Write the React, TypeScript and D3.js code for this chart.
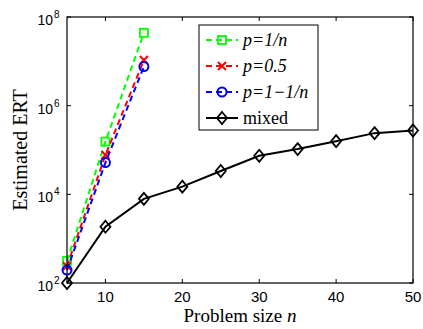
import { useEffect, useRef } from 'react'
import * as d3 from 'd3'

const sizes = [5, 10, 15, 20, 25, 30, 35, 40, 45, 50]
const ertOneOverN = [316, 155000, 44000000]
const ertHalf = [240, 77000, 10700000]
const ertOneMinus = [196, 52000, 7600000]
const ertMixed = [100, 1860, 7900, 14900, 33600, 74000, 105000, 158000, 240000, 275000]

const xTicks = [10, 20, 30, 40, 50]
const yTickExps = [2, 4, 6, 8]

const seriesList = [
  { label: 'p=1/n', values: ertOneOverN, color: '#00ff00', marker: 'square', dashed: true },
  { label: 'p=0.5', values: ertHalf, color: '#ff0000', marker: 'cross', dashed: true },
  { label: 'p=1\u22121/n', values: ertOneMinus, color: '#0000ff', marker: 'circle', dashed: true },
  { label: 'mixed', values: ertMixed, color: '#000000', marker: 'diamond', dashed: false },
]

const W = 423
const H = 329
const plot = { left: 67, right: 413, top: 17, bottom: 283 }
const serif = '"Liberation Serif", "Times New Roman", serif'
const sans = '"Liberation Sans", Arial, sans-serif'

function drawMarker(g: d3.Selection<SVGGElement, unknown, null, undefined>, kind: string, cx: number, cy: number, color: string) {
  if (kind === 'square') {
    g.append('rect')
      .attr('x', cx - 4)
      .attr('y', cy - 4)
      .attr('width', 8)
      .attr('height', 8)
      .attr('fill', 'none')
      .attr('stroke', color)
      .attr('stroke-width', 1.8)
  } else if (kind === 'cross') {
    g.append('path')
      .attr('d', `M${cx - 4},${cy - 4}L${cx + 4},${cy + 4}M${cx - 4},${cy + 4}L${cx + 4},${cy - 4}`)
      .attr('stroke', color)
      .attr('stroke-width', 2)
  } else if (kind === 'circle') {
    g.append('circle')
      .attr('cx', cx)
      .attr('cy', cy)
      .attr('r', 4.5)
      .attr('fill', 'none')
      .attr('stroke', color)
      .attr('stroke-width', 2)
  } else {
    g.append('path')
      .attr('d', `M${cx},${cy - 6}L${cx + 5},${cy}L${cx},${cy + 6}L${cx - 5},${cy}Z`)
      .attr('fill', 'none')
      .attr('stroke', color)
      .attr('stroke-width', 1.8)
  }
}

const App = () => {
  const ref = useRef<SVGSVGElement>(null)

  useEffect(() => {
    if (!ref.current) return
    const svg = d3.select(ref.current)
    svg.selectAll('*').remove()

    const x = d3.scaleLinear().domain([5, 50]).range([plot.left, plot.right])
    const y = d3.scaleLog().domain([1e2, 1e8]).range([plot.bottom, plot.top])

    svg.append('rect').attr('width', W).attr('height', H).attr('fill', '#fff')

    // ticks (inward, all four sides)
    const ticks = svg.append('g').attr('stroke', '#000').attr('stroke-width', 1)
    xTicks.forEach((t) => {
      ticks.append('line').attr('x1', x(t)).attr('x2', x(t)).attr('y1', plot.bottom).attr('y2', plot.bottom - 4)
      ticks.append('line').attr('x1', x(t)).attr('x2', x(t)).attr('y1', plot.top).attr('y2', plot.top + 4)
    })
    yTickExps.forEach((e) => {
      const yy = y(Math.pow(10, e))
      ticks.append('line').attr('x1', plot.left).attr('x2', plot.left + 4).attr('y1', yy).attr('y2', yy)
      ticks.append('line').attr('x1', plot.right).attr('x2', plot.right - 4).attr('y1', yy).attr('y2', yy)
    })

    // tick labels
    xTicks.forEach((t) => {
      svg.append('text')
        .attr('x', x(t))
        .attr('y', plot.bottom + 19)
        .attr('text-anchor', 'middle')
        .style('font-family', sans)
        .style('font-size', '15px')
        .text(String(t))
    })
    yTickExps.forEach((e) => {
      const yy = y(Math.pow(10, e))
      const t = svg.append('text')
        .attr('y', yy + 8)
        .style('font-family', sans)
        .style('font-size', '14px')
      t.append('tspan').attr('x', 53).attr('text-anchor', 'end').text('10')
      t.append('tspan').attr('x', 54).attr('dy', -7).style('font-size', '10px').text(String(e))
    })

    // series
    const line = d3
      .line<number>()
      .x((_, i) => x(sizes[i]))
      .y((d) => y(d))

    seriesList.forEach((s) => {
      const g = svg.append('g')
      g.append('path')
        .attr('d', line(s.values))
        .attr('fill', 'none')
        .attr('stroke', s.color)
        .attr('stroke-width', 2)
        .attr('stroke-dasharray', s.dashed ? '6,4' : null)
      s.values.forEach((v, i) => drawMarker(g, s.marker, x(sizes[i]), y(v), s.color))
    })

    // axes box
    svg.append('rect')
      .attr('x', plot.left)
      .attr('y', plot.top)
      .attr('width', plot.right - plot.left)
      .attr('height', plot.bottom - plot.top)
      .attr('fill', 'none')
      .attr('stroke', '#000')
      .attr('stroke-width', 1.2)

    // legend
    const lg = svg.append('g')
    lg.append('rect')
      .attr('x', 199)
      .attr('y', 25)
      .attr('width', 119)
      .attr('height', 105)
      .attr('fill', '#fff')
      .attr('stroke', '#000')
      .attr('stroke-width', 1)
    seriesList.forEach((s, i) => {
      const yy = 40 + i * 26
      lg.append('line')
        .attr('x1', 206)
        .attr('x2', 238)
        .attr('y1', yy)
        .attr('y2', yy)
        .attr('stroke', s.color)
        .attr('stroke-width', 2)
        .attr('stroke-dasharray', s.dashed ? '6,4' : null)
      drawMarker(lg, s.marker, 222, yy, s.color)
      lg.append('text')
        .attr('x', 243)
        .attr('y', yy + 6)
        .style('font-family', serif)
        .style('font-size', '18px')
        .style('font-style', s.dashed ? 'italic' : 'normal')
        .text(s.label)
    })

    // axis labels
    const xl = svg.append('text')
      .attr('x', (plot.left + plot.right) / 2)
      .attr('y', 322)
      .attr('text-anchor', 'middle')
      .style('font-family', serif)
      .style('font-size', '19px')
    xl.append('tspan').text('Problem size ')
    xl.append('tspan').style('font-style', 'italic').text('n')

    svg.append('text')
      .attr('transform', `translate(27,${(plot.top + plot.bottom) / 2}) rotate(-90)`)
      .attr('text-anchor', 'middle')
      .style('font-family', serif)
      .style('font-size', '20px')
      .text('Estimated ERT')
  }, [])

  return (
    <svg
      ref={ref}
      width={W}
      height={H}
      style={{ position: 'absolute', left: 0, top: 0, display: 'block' }}
    />
  )
}

export default App
